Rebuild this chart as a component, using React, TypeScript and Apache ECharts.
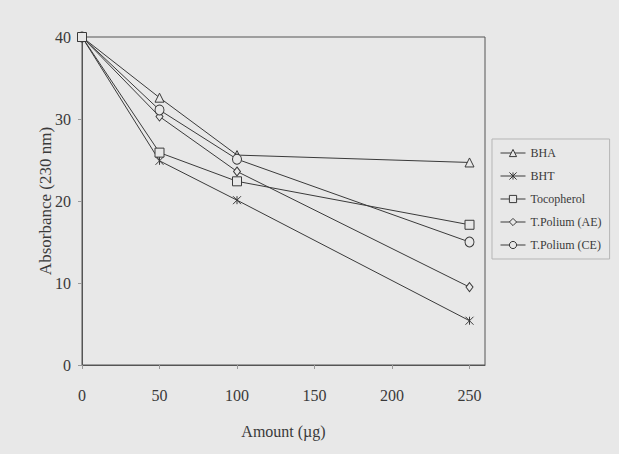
import React, { useEffect, useRef } from "react";
import * as echarts from "echarts";

const amounts = [0, 50, 100, 250];
const bha = [40, 32.6, 25.6, 24.7];
const bht = [40, 24.9, 20.1, 5.4];
const tocopherol = [40, 25.9, 22.4, 17.1];
const polAE = [40, 30.3, 23.6, 9.5];
const polCE = [40, 31.1, 25.1, 15.0];
const xTicks = [0, 50, 100, 150, 200, 250];
const yTicks = [0, 10, 20, 30, 40];

const FONT = "Liberation Serif";
const INK = "#3a3a3a";
const BG = "#e8e8e8";

const bhtSymbol = "path://M0 0 L10 10 M10 0 L0 10 M5 0 L5 10";

function pairs(v: number[]) {
  return amounts.map((a, i) => [a, v[i]]);
}

export default function App() {
  const ref = useRef<HTMLDivElement>(null);
  useEffect(() => {
    const chart = echarts.init(ref.current!, null, { renderer: "svg" });
    const mk = (name: string, data: number[], symbol: string, size: any) => ({
      name,
      type: "line",
      data: pairs(data),
      symbol,
      symbolSize: size,
      showAllSymbol: true,
      lineStyle: { color: INK, width: 1 },
      itemStyle: { color: BG, borderColor: INK, borderWidth: 1 },
      emphasis: { disabled: true },
    });
    chart.setOption({
      animation: false,
      backgroundColor: BG,
      textStyle: { fontFamily: FONT, color: INK },
      grid: {
        left: 82,
        right: 134,
        top: 37,
        bottom: 89,
        show: true,
        borderColor: "#555",
        borderWidth: 1,
        backgroundColor: "transparent",
      },
      legend: {
        orient: "vertical",
        left: 492,
        top: 139,
        width: 115,
        padding: [8, 8, 8, 8],
        itemGap: 11,
        itemWidth: 25,
        itemHeight: 9,
        borderColor: "#b5b5b5",
        borderWidth: 1,
        itemStyle: { color: BG, borderColor: INK, borderWidth: 1 },
        lineStyle: { color: INK, width: 1 },
        textStyle: { fontFamily: FONT, fontSize: 12, color: INK },
        data: ["BHA", "BHT", "Tocopherol", "T.Polium (AE)", "T.Polium (CE)"],
      },
      xAxis: {
        type: "value",
        min: 0,
        max: 260,
        interval: 50,
        name: "Amount (µg)",
        nameLocation: "middle",
        nameGap: 58,
        nameMoveOverlap: false,
        nameTextStyle: { fontFamily: FONT, fontSize: 16, color: INK },
        axisLine: { lineStyle: { color: "#555", width: 1 } },
        axisTick: { show: true, length: 4, lineStyle: { color: "#999" }, customValues: xTicks },
        axisLabel: { fontFamily: FONT, fontSize: 16, color: INK, margin: 22, customValues: xTicks },
        splitLine: { show: false },
      },
      yAxis: {
        type: "value",
        min: 0,
        max: 40,
        interval: 10,
        name: "Absorbance (230 nm)",
        nameLocation: "middle",
        nameGap: 28,
        nameMoveOverlap: false,
        nameTextStyle: { fontFamily: FONT, fontSize: 17, color: INK },
        axisLine: { show: true, lineStyle: { color: "#555", width: 1 } },
        axisTick: { show: true, length: 4, lineStyle: { color: "#999" }, customValues: yTicks },
        axisLabel: { fontFamily: FONT, fontSize: 16, color: INK, margin: 11, customValues: yTicks },
        splitLine: { show: false },
      },
      series: [
        mk("BHA", bha, "triangle", 9),
        mk("BHT", bht, bhtSymbol, 8),
        mk("T.Polium (AE)", polAE, "diamond", [7, 9]),
        mk("T.Polium (CE)", polCE, "circle", [9, 10]),
        mk("Tocopherol", tocopherol, "rect", 9),
      ],
    });
    return () => chart.dispose();
  }, []);
  return (
    <div
      ref={ref}
      style={{ position: "fixed", left: 0, top: 0, width: 619, height: 454 }}
    />
  );
}
